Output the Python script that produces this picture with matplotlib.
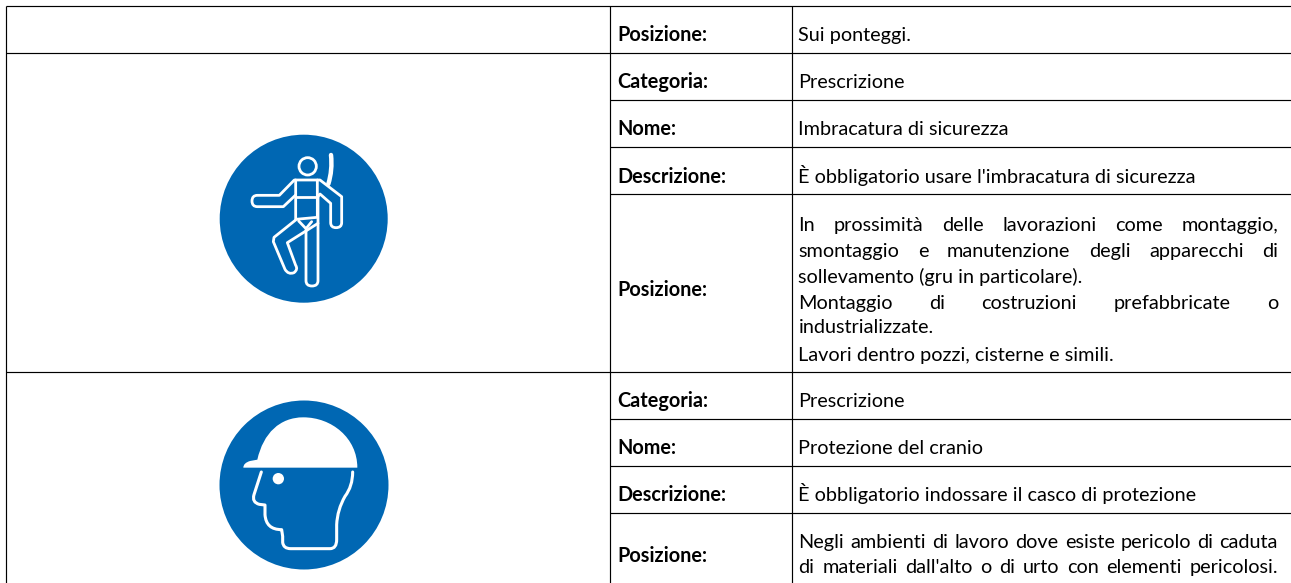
import matplotlib
matplotlib.use('Agg')
import matplotlib.pyplot as plt
from matplotlib.patches import Circle, PathPatch
from matplotlib.path import Path

BLUE = '#0067b3'
FONT = 'Lato'

# table grid, in pixels of the page
col_x = [6, 610, 792]
full_rows = [6, 53, 372]
right_rows = [100, 147, 194, 419, 466, 513]
bottom = 583
right = 1291

# (baseline, text) of the bold labels
label_base = [41, 88, 135, 183, 296, 407, 454, 501, 562]
label_text = ['Posizione:', 'Categoria:', 'Nome:', 'Descrizione:', 'Posizione:',
              'Categoria:', 'Nome:', 'Descrizione:', 'Posizione:']

# plain values, one line each
value_base = [41, 88, 135, 183, 283, 333, 361, 407, 454, 501]
value_text = ['Sui ponteggi.', 'Prescrizione', 'Imbracatura di sicurezza',
              "È obbligatorio usare l'imbracatura di sicurezza",
              'sollevamento (gru in particolare).', 'industrializzate.',
              'Lavori dentro pozzi, cisterne e simili.', 'Prescrizione',
              'Protezione del cranio', 'È obbligatorio indossare il casco di protezione']

# lines that run the full width of the cell
just_base = [231, 257, 309, 548, 573]
just_text = ['In prossimità delle lavorazioni come montaggio,',
             'smontaggio e manutenzione degli apparecchi di',
             'Montaggio di costruzioni prefabbricate o',
             'Negli ambienti di lavoro dove esiste pericolo di caduta',
             "di materiali dall'alto o di urto con elementi pericolosi."]

fig = plt.figure(figsize=(12.91, 5.83), dpi=100, facecolor='white')
ax = fig.add_axes([0, 0, 1, 1])
ax.set_xlim(0, 1291)
ax.set_ylim(583, 0)
ax.axis('off')

# grid
LW = 0.85
for y in full_rows:
    ax.plot([col_x[0], right], [y, y], color='black', lw=LW, solid_capstyle='butt')
for y in right_rows:
    ax.plot([col_x[1], right], [y, y], color='black', lw=LW, solid_capstyle='butt')
for x in col_x:
    ax.plot([x, x], [6, bottom], color='black', lw=LW, solid_capstyle='butt')

# text
FS = 14.3
for y, t in zip(label_base, label_text):
    ax.text(617.5, y, t, fontsize=FS, fontweight='bold', family=FONT, va='baseline', color='black')
for y, t in zip(value_base, value_text):
    ax.text(798.5, y, t, fontsize=FS, family=FONT, va='baseline', color='black')

renderer = fig.canvas.get_renderer()
x0, x1 = 798.5, 1278
for y, line in zip(just_base, just_text):
    words = line.split(' ')
    items = [ax.text(x0, y, w, fontsize=FS, family=FONT, va='baseline', color='black') for w in words]
    widths = [i.get_window_extent(renderer).width for i in items]
    gap = (x1 - x0 - sum(widths)) / (len(words) - 1)
    x = x0
    for item, w in zip(items, widths):
        item.set_x(x)
        x += w + gap


def crop1(pts):
    return [(200 + px / 3, 120 + py / 3) for px, py in pts]


def crop2(pts):
    return [(200 + px / 3, 383 + py / 3) for px, py in pts]


def white_line(pts, lw=2.0, codes=None):
    path = Path(pts, codes) if codes else Path(pts)
    ax.add_patch(PathPatch(path, fc='none', ec='white', lw=lw, capstyle='round', joinstyle='round'))


M, L, Q, C = Path.MOVETO, Path.LINETO, Path.CURVE3, Path.CURVE4

# harness sign
ax.add_patch(Circle((303.7, 218.7), 84, fc=BLUE, ec='none'))
ax.add_patch(Circle(crop1([(323, 139)])[0], 26 / 3, fc='none', ec='white', lw=2.0))
white_line(crop1([(393, 105), (398, 150), (385, 192)]), lw=3.2, codes=[M, Q, Q])
# left arm and shoulders
white_line(crop1([(287, 225), (250, 260), (172, 260), (156, 260), (156, 243), (156, 226), (172, 226),
                  (238, 226), (283, 180), (360, 180), (425, 230), (425, 308), (425, 323), (408, 323),
                  (392, 323), (392, 308), (392, 250), (360, 222), (352, 232)]),
           codes=[M, L, L, Q, Q, Q, Q, L, L, L, L, L, Q, Q, Q, Q, L, L, L])
# torso and harness
white_line(crop1([(287, 180), (287, 298), (352, 292), (352, 180)]))
white_line(crop1([(287, 232), (352, 232)]))
white_line(crop1([(296, 303), (318, 326), (335, 305)]))
# legs
white_line(crop1([(287, 300), (222, 352), (220, 365), (255, 448), (265, 465), (282, 458), (295, 448),
                  (287, 436), (262, 368), (354, 310)]),
           codes=[M, L, L, L, Q, Q, Q, Q, L, L])
white_line(crop1([(354, 225), (354, 482), (354, 498), (336, 498), (318, 498), (318, 482), (318, 330)]),
           codes=[M, L, Q, Q, Q, Q, L])

# helmet sign
ax.add_patch(Circle((304, 485), 84.5, fc=BLUE, ec='none'))
helmet = crop2([(130, 254), (130, 240), (150, 234), (172, 230), (190, 150), (240, 103), (310, 103),
                (395, 103), (472, 165), (472, 254), (130, 254)])
ax.add_patch(PathPatch(Path(helmet, [M, Q, Q, L, C, C, C, C, C, C, L]), fc='white', ec='none'))
ax.add_patch(Circle(crop2([(235, 287)])[0], 17 / 3, fc='white', ec='none'))
white_line(crop2([(184, 267), (162, 335), (155, 358), (178, 364), (195, 366), (195, 395), (198, 440),
                  (245, 440), (248, 460), (248, 478), (250, 497), (272, 497), (390, 497), (410, 497),
                  (410, 470), (410, 425), (412, 380), (435, 340), (458, 310), (458, 267)]),
           lw=2.2, codes=[M, L, Q, Q, L, L, Q, Q, L, L, Q, Q, L, Q, Q, L, Q, Q, Q, Q])

fig.savefig('out.png', dpi=100)
